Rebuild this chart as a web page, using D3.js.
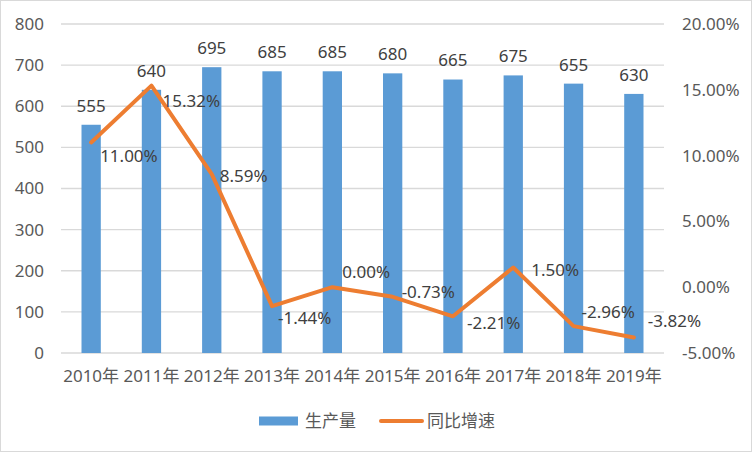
<!DOCTYPE html>
<html><head><meta charset="utf-8">
<script src="https://cdn.jsdelivr.net/npm/d3@7"></script>
<style>
body{margin:0;background:#fff;}
svg text{font-family:"Noto Sans","Noto Sans CJK SC",sans-serif;}
</style></head>
<body><svg id="c" width="752" height="452"></svg>
<script>
const categories = ["2010年","2011年","2012年","2013年","2014年","2015年","2016年","2017年","2018年","2019年"];
const production = [555,640,695,685,685,680,665,675,655,630];
const growth = [0.1100,0.1532,0.0859,-0.0144,0.0000,-0.0073,-0.0221,0.0150,-0.0296,-0.0382];
const leftTicks = [0,100,200,300,400,500,600,700,800];
const rightTicks = [-0.05,0,0.05,0.10,0.15,0.20];
const seriesNames = ["生产量","同比增速"];

// label placement tweaks (layout only)
const lineLabelOffsets = [[9,14],[11,15],[8,2],[6,12],[10,-15],[9,-5],[14,7],[18,3],[8,-14],[14,-16]];

(function(){
const svg = d3.select("#c");
const W=752,H=452,FS=17;
const pct = d=>d3.format(".2%")(d).replace("\u2212","-");
svg.append("rect").attr("x",0.5).attr("y",0.5).attr("width",W-1).attr("height",H-1)
  .attr("fill","#fff").attr("stroke","#d9d9d9");

const pL=61,pR=664,pT=24,pB=353;
const x = d3.scaleBand().domain(categories).range([pL,pR]).padding(0);
const y = d3.scaleLinear().domain([0,800]).range([pB,pT]);
const y2 = d3.scaleLinear().domain([-0.05,0.20]).range([pB,pT]);

svg.append("g").selectAll("line").data(leftTicks).join("line")
  .attr("x1",pL).attr("x2",pR).attr("y1",d=>y(d)).attr("y2",d=>y(d))
  .attr("stroke","#d9d9d9").attr("stroke-width",1.3);

const ax = svg.append("g").attr("transform",`translate(${pL},0)`)
  .call(d3.axisLeft(y).tickValues(leftTicks).tickSize(0).tickPadding(17));
ax.select(".domain").remove();
ax.selectAll("text").attr("font-size",FS).attr("fill","#595959");

const ar = svg.append("g").attr("transform",`translate(${pR},0)`)
  .call(d3.axisRight(y2).tickValues(rightTicks).tickSize(0).tickPadding(18).tickFormat(pct));
ar.select(".domain").remove();
ar.selectAll("text").attr("font-size",FS).attr("fill","#595959").attr("text-anchor","start");

const ab = svg.append("g").attr("transform",`translate(0,${pB})`)
  .call(d3.axisBottom(x).tickSize(0).tickPadding(17));
ab.select(".domain").remove();
ab.selectAll("text").attr("font-size",FS).attr("fill","#595959");

const bw = x.bandwidth()*0.32;
svg.append("g").selectAll("rect").data(production).join("rect")
  .attr("x",(d,i)=>x(categories[i])+x.bandwidth()/2-bw/2)
  .attr("width",bw)
  .attr("y",d=>y(d)).attr("height",d=>pB-y(d))
  .attr("fill","#5B9BD5");

svg.append("g").selectAll("text").data(production).join("text")
  .attr("x",(d,i)=>x(categories[i])+x.bandwidth()/2)
  .attr("y",d=>y(d)-19).attr("dy","0.35em")
  .attr("text-anchor","middle").attr("font-size",FS).attr("fill","#404040")
  .text(d=>d);

const cx = (i)=>x(categories[i])+x.bandwidth()/2;
const line = d3.line().x((d,i)=>cx(i)).y(d=>y2(d));
svg.append("path").datum(growth).attr("d",line)
  .attr("fill","none").attr("stroke","#ED7D31").attr("stroke-width",4)
  .attr("stroke-linejoin","round").attr("stroke-linecap","round");

svg.append("g").selectAll("text").data(growth).join("text")
  .attr("x",(d,i)=>cx(i)+lineLabelOffsets[i][0])
  .attr("y",(d,i)=>y2(d)+lineLabelOffsets[i][1]).attr("dy","0.35em")
  .attr("font-size",FS).attr("fill","#404040")
  .text(d=>pct(d));

const lg = svg.append("g");
lg.append("rect").attr("x",259).attr("y",416.5).attr("width",39).attr("height",9).attr("fill","#5B9BD5");
lg.append("text").attr("x",305).attr("y",421).attr("dy","0.35em").attr("font-size",FS).attr("fill","#595959").text(seriesNames[0]);
lg.append("line").attr("x1",381).attr("x2",422).attr("y1",421).attr("y2",421)
  .attr("stroke","#ED7D31").attr("stroke-width",4).attr("stroke-linecap","round");
lg.append("text").attr("x",427).attr("y",421).attr("dy","0.35em").attr("font-size",FS).attr("fill","#595959").text(seriesNames[1]);
})();
</script></body></html>
